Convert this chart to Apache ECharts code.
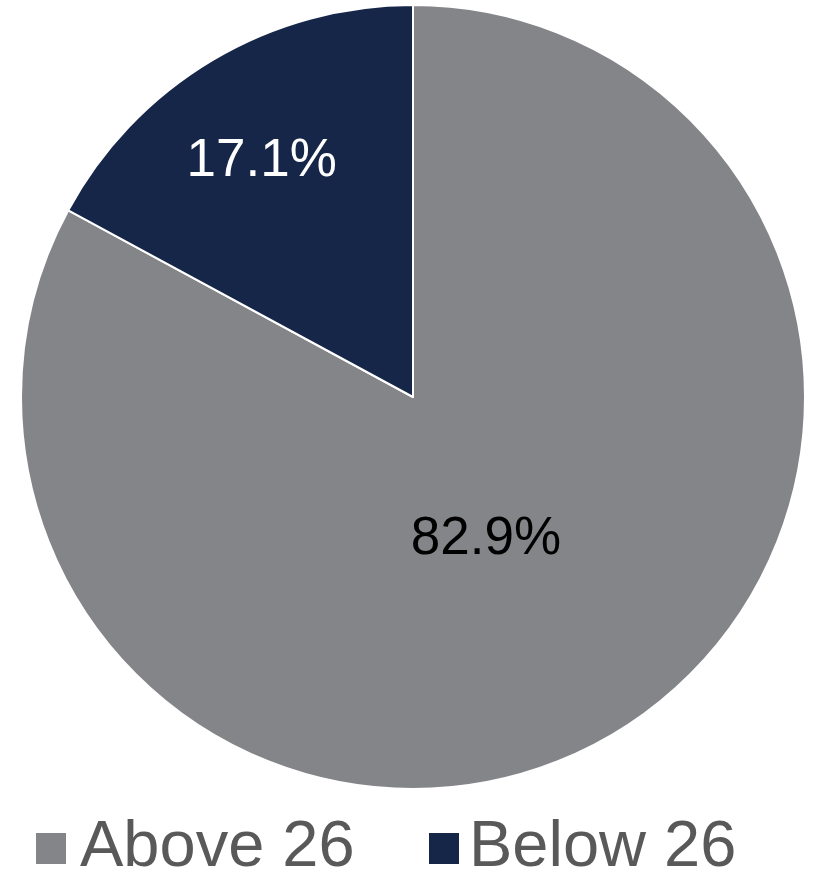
<!DOCTYPE html>
<html>
<head>
<meta charset="utf-8">
<script src="https://cdn.jsdelivr.net/npm/echarts@6/dist/echarts.min.js"></script>
<style>
  html, body { margin: 0; padding: 0; background: #ffffff; }
  #chart { width: 816px; height: 873px; }
</style>
</head>
<body>
<div id="chart"></div>
<script>
// Age groups and their share of the total (%)
const categories = ['Above 26', 'Below 26'];
const shares = [82.9, 17.1];
const sliceColors = ['#848589', '#162649'];
const labelColors = ['#000000', '#ffffff'];

const chart = echarts.init(document.getElementById('chart'), null, { renderer: 'canvas' });

const CX = 413, CY = 397, R = 392;

// Label anchor for each slice, in radius units relative to the centre
const labelOffsets = [[0.186, 0.364], [-0.386, -0.600]];

const legendText = {
  fontFamily: 'Liberation Sans, Arial, sans-serif',
  fontSize: 65,
  lineHeight: 62,
  color: '#595959'
};

function legendFor(name, left, gap) {
  return {
    data: [name],
    left: left,
    top: 816,
    padding: 0,
    icon: 'rect',
    itemWidth: 32,
    itemHeight: 33,
    textStyle: Object.assign({}, legendText, { padding: [0, 0, 0, gap] })
  };
}

chart.setOption({
  animation: false,
  backgroundColor: '#ffffff',
  legend: [
    legendFor(categories[0], 34, 8),
    legendFor(categories[1], 427, 4)
  ],
  series: [{
    type: 'pie',
    center: [CX, CY],
    radius: [0, R],
    startAngle: 90,
    clockwise: true,
    silent: true,
    itemStyle: { borderColor: '#ffffff', borderWidth: 2 },
    label: {
      show: true,
      position: 'inside',
      fontFamily: 'Liberation Sans, Arial, sans-serif',
      fontSize: 53,
      formatter: p => p.value.toFixed(1) + '%'
    },
    labelLine: { show: false },
    labelLayout: function (params) {
      const i = params.dataIndex;
      const tx = CX + labelOffsets[i][0] * R;
      const ty = CY + labelOffsets[i][1] * R;
      const r = params.labelRect;
      return {
        dx: tx - (r.x + r.width / 2),
        dy: ty - (r.y + r.height / 2)
      };
    },
    data: categories.map((name, i) => ({
      name: name,
      value: shares[i],
      itemStyle: { color: sliceColors[i] },
      label: { color: labelColors[i] }
    }))
  }]
});
</script>
</body>
</html>
